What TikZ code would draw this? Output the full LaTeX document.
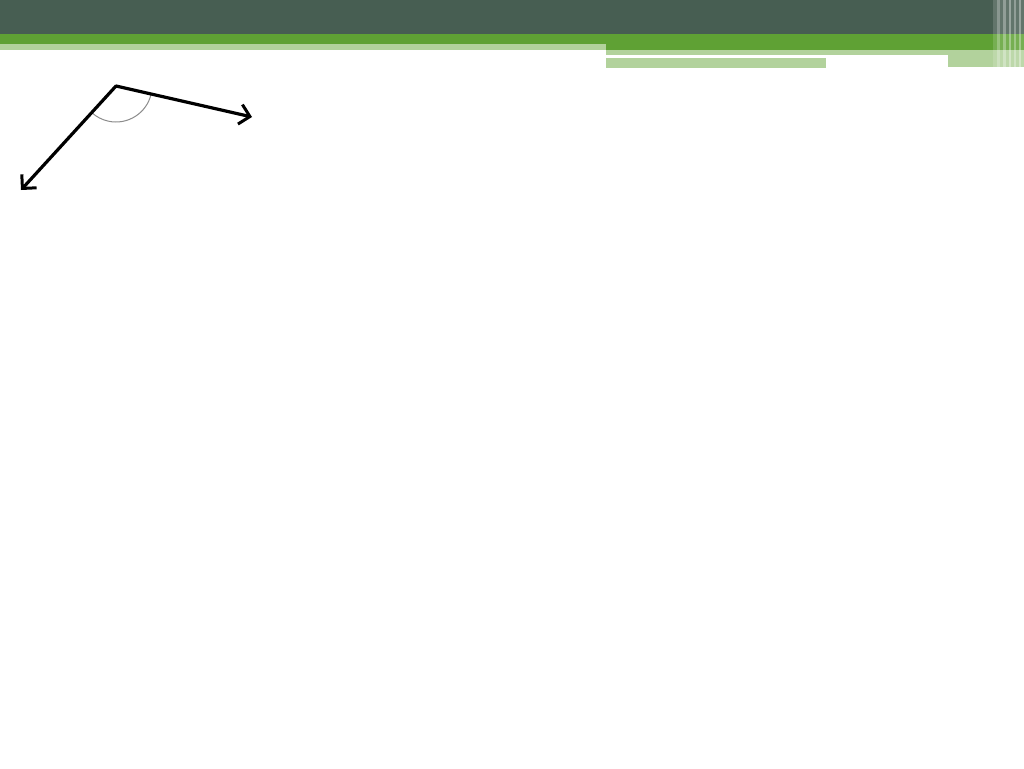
\documentclass[tikz,border=0pt]{standalone}
\usetikzlibrary{arrows.meta}
\definecolor{darkband}{RGB}{71,94,82}
\definecolor{greenband}{RGB}{95,161,52}
\definecolor{palegreen}{RGB}{178,210,156}
\definecolor{arcgray}{RGB}{140,140,140}
\tikzset{
  ray/.style={line width=3.2pt, line cap=round, line join=round, -{Straight Barb[length=10pt,width=20pt,line width=3pt]}},
  anglearc/.style={arcgray, line width=1pt},
  stripe/.style={fill=white, draw=none}
}
\begin{document}
\begin{tikzpicture}[x=1pt,y=-1pt]
\useasboundingbox (0,0) rectangle (1024,768);
\fill[white] (0,0) rectangle (1024,768);
% header bands
\fill[darkband] (0,0) rectangle (1024,34);
\fill[greenband] (0,34) rectangle (1024,44);
\fill[greenband] (606,44) rectangle (1024,50);
\fill[palegreen] (0,44) rectangle (606,50);
\fill[palegreen] (606,50) rectangle (1024,55);
\fill[white] (606,55) rectangle (948,58);
\fill[palegreen] (948,55) rectangle (1024,58);
\fill[palegreen] (606,58) rectangle (826,68);
\fill[palegreen] (948,58) rectangle (1024,67);
% right vertical stripes
\fill[stripe, opacity=0.15] (993,0) rectangle (1024,68);
\fill[stripe, opacity=0.25] (997,0) rectangle (1000,68);
\fill[stripe, opacity=0.3] (1003,0) rectangle (1006,68);
\fill[stripe, opacity=0.35] (1009,0) rectangle (1011,68);
\fill[stripe, opacity=0.3] (1014,0) rectangle (1016,68);
\fill[stripe, opacity=0.35] (1019,0) rectangle (1021,68);
% angle
\coordinate (V) at (116,86);
\coordinate (R) at (252,117);
\coordinate (L) at (21,190);
\draw[anglearc] (V) ++(12.7:36) arc[start angle=12.7, end angle=132.4, radius=36];
\draw[ray] (V) -- (R);
\draw[ray] (V) -- (L);
\end{tikzpicture}
\end{document}
